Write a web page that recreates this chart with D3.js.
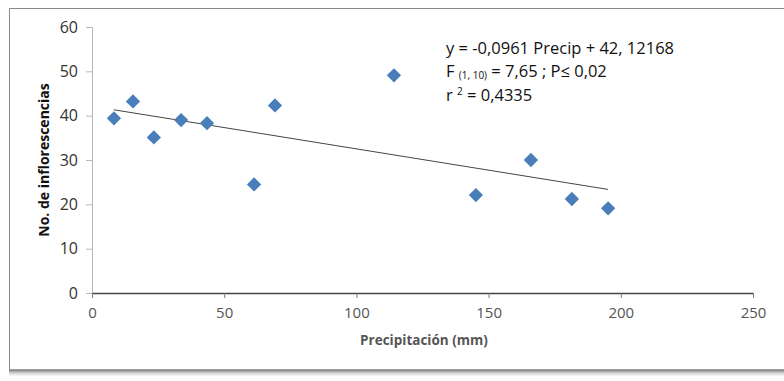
<!DOCTYPE html>
<html lang="es">
  <head>
    <meta charset="UTF-8" />
    <title>Inflorescencias vs precipitación</title>
    <style>
      body { margin: 0; background: #fff; }
      svg { display: block; font-family: "Open Sans", "Liberation Sans", sans-serif; }
    </style>
  </head>
  <body>
    <script src="https://cdn.jsdelivr.net/npm/d3@7"></script>
    <script>
      // valores
      const precip = [8.3, 15.5, 23.4, 33.7, 43.5, 61.3, 69.2, 114.2, 145.2, 166, 181.5, 195.2];
      const inflor = [39.4, 43.2, 35.1, 39.0, 38.3, 24.5, 42.3, 49.1, 22.1, 30.0, 21.2, 19.1];
      const xTicks = [0, 50, 100, 150, 200, 250];
      const yTicks = [0, 10, 20, 30, 40, 50, 60];
      const pendiente = -0.0961;
      const intercepto = 42.12168;

      const W = 784, H = 381;
      const svg = d3.select("body").append("svg").attr("width", W).attr("height", H);

      // marco con sombra
      const sombra = ["#444", "#777", "#999", "#bbb", "#d4d4d4", "#e6e6e6"];
      sombra.forEach((c, i) => {
        svg.append("line").attr("x1", 9).attr("x2", W).attr("y1", 370 + i).attr("y2", 370 + i)
          .attr("stroke", c).attr("stroke-width", 1.2);
      });
      svg.append("path").attr("d", `M${W},8.5 H9.5 V370`).attr("fill", "none")
        .attr("stroke", "#8a8a8a").attr("stroke-width", 1);

      const x = d3.scaleLinear().domain([0, 250]).range([92, 753]);
      const y = d3.scaleLinear().domain([0, 60]).range([293, 27]);

      // eje y
      const ejeY = svg.append("g").attr("transform", `translate(${x(0)},0)`)
        .call(d3.axisLeft(y).tickValues(yTicks).tickSize(6).tickPadding(8));
      ejeY.select(".domain").attr("stroke", "#b8b8b8");
      ejeY.selectAll(".tick line").attr("stroke", "#b8b8b8");
      ejeY.selectAll("text").attr("font-size", 16).attr("fill", "#333")
        .attr("font-family", "Open Sans, sans-serif");

      // eje x
      const ejeX = svg.append("g").attr("transform", `translate(0,${y(0)})`)
        .call(d3.axisBottom(x).tickValues(xTicks).tickSize(5).tickPadding(9).tickSizeOuter(0));
      ejeX.select(".domain").attr("stroke", "#444").attr("stroke-width", 1.5);
      ejeX.selectAll(".tick line").attr("stroke", "#777");
      ejeX.selectAll("text").attr("font-size", 15).attr("fill", "#555")
        .attr("font-family", "Open Sans, sans-serif");

      // línea de tendencia
      const xr = d3.extent(precip);
      svg.append("line")
        .attr("x1", x(xr[0])).attr("y1", y(pendiente * xr[0] + intercepto))
        .attr("x2", x(xr[1])).attr("y2", y(pendiente * xr[1] + intercepto))
        .attr("stroke", "#444").attr("stroke-width", 1);

      // puntos (rombos)
      const rombo = d3.symbol().type(d3.symbolDiamond2).size(130);
      svg.append("g").selectAll("path").data(precip).join("path")
        .attr("d", rombo)
        .attr("transform", (d, i) => `translate(${x(d)},${y(inflor[i])})`)
        .attr("fill", "#4a7ebb");

      // títulos de ejes
      svg.append("text").attr("transform", `translate(49,${y(30)}) rotate(-90)`)
        .attr("text-anchor", "middle").attr("font-size", 14).attr("font-weight", "bold")
        .attr("fill", "#111").text("No. de inflorescencias");
      svg.append("text").attr("x", 424).attr("y", 345)
        .attr("text-anchor", "middle").attr("font-size", 13.5).attr("font-weight", "bold")
        .attr("fill", "#555").text("Precipitación (mm)");

      // ecuación
      const eq = svg.append("g").attr("font-size", 16.5).attr("fill", "#111");
      eq.append("text").attr("x", 446).attr("y", 54).text("y = -0,0961 Precip + 42, 12168");
      const f = eq.append("text").attr("x", 446).attr("y", 77);
      f.append("tspan").text("F ");
      f.append("tspan").attr("font-size", 10).attr("dy", 2).text("(1, 10)");
      f.append("tspan").attr("dy", -2).text(" = 7,65 ; P\u2264 0,02");
      const r = eq.append("text").attr("x", 446).attr("y", 101);
      r.append("tspan").text("r ");
      r.append("tspan").attr("font-size", 10).attr("dy", -6).text("2");
      r.append("tspan").attr("dy", 6).text(" = 0,4335");
    </script>
  </body>
</html>
